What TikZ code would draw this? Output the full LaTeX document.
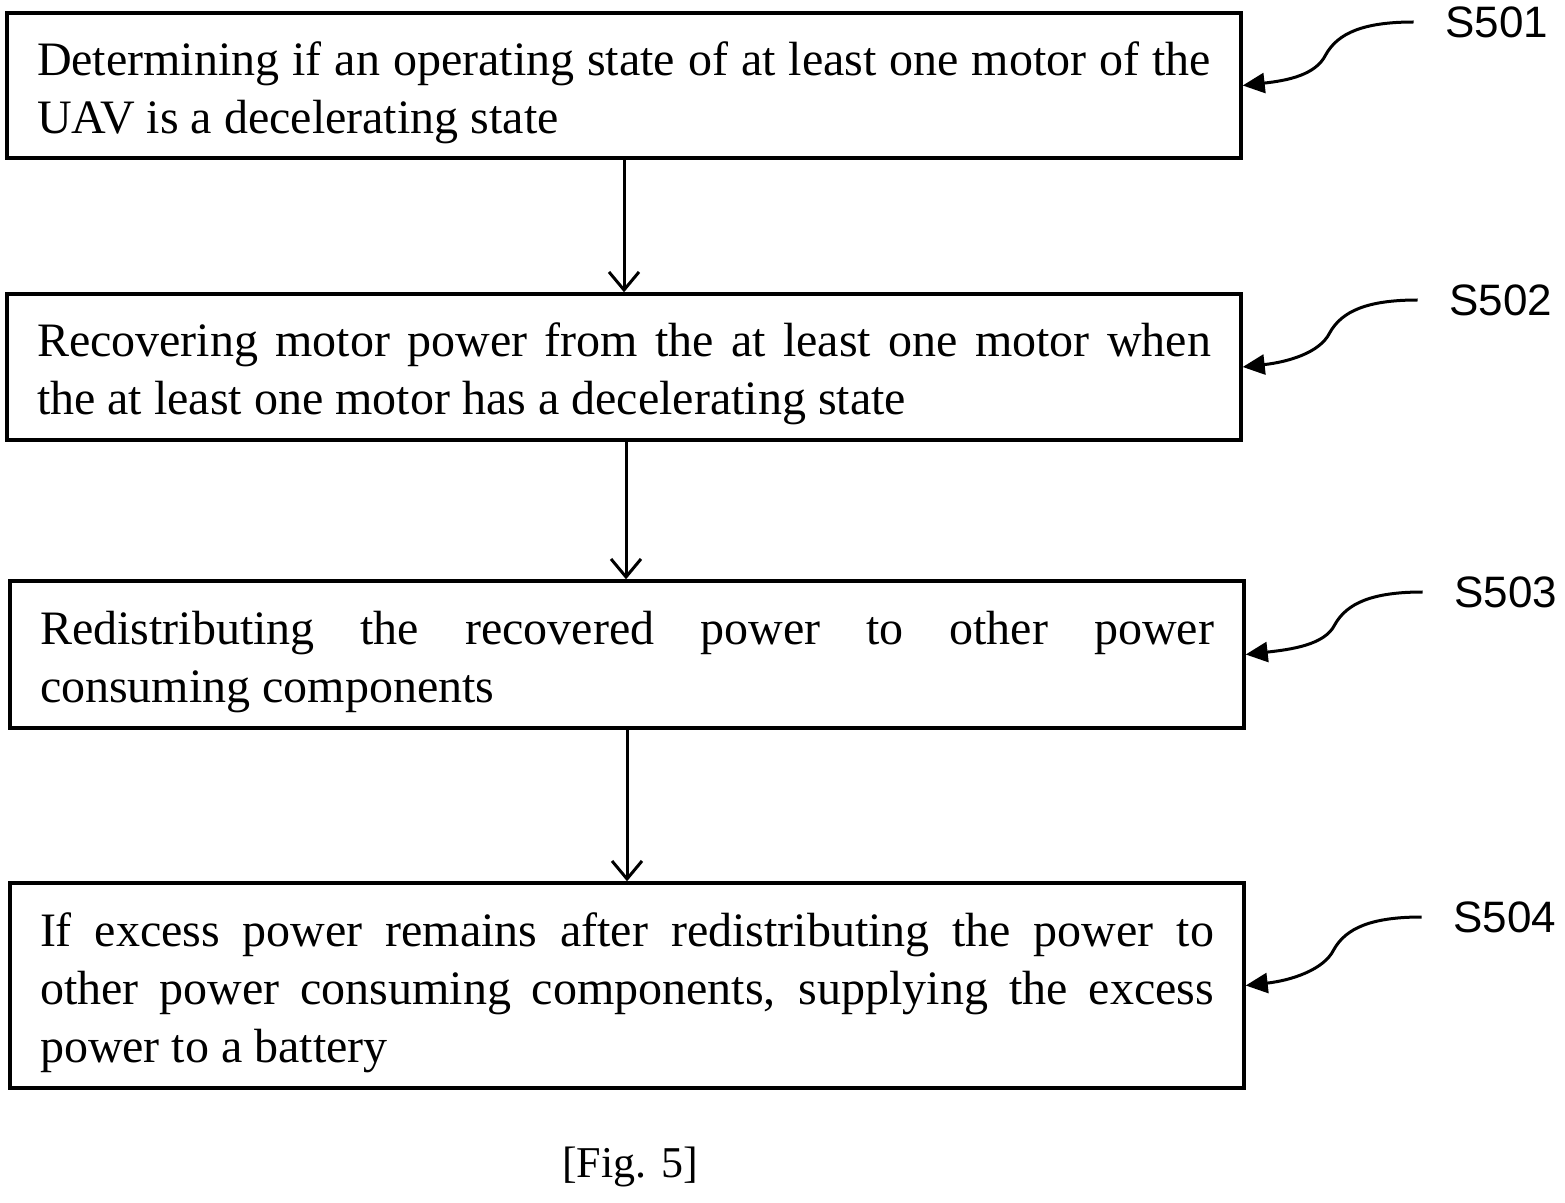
\documentclass[tikz,border=0pt]{standalone}
\usepackage{fontspec}
\setmainfont{Liberation Serif}
\newfontfamily\labfont{Liberation Sans}
\usetikzlibrary{arrows.meta,calc}
\newcommand\boxtopgap{\rule{0pt}{24pt}}
\begin{document}
\begin{tikzpicture}[x=0.5pt,y=-0.5pt,
  stepbox/.style={draw, line width=1.7pt, text width=587pt, align=justify,
    inner xsep=15pt, inner ysep=0pt, font=\fontsize{24}{29}\selectfont},
  flow/.style={line width=1.5pt, -{Straight Barb[length=9pt,width=15pt,line width=1.5pt]}},
  callout/.style={line width=1.5pt, -{Triangle[length=11pt,width=10pt]}},
  steplabel/.style={font=\labfont\fontsize{22}{26}\selectfont, inner sep=0pt, outer xsep=16pt},
  caption/.style={font=\fontsize{22}{26}\selectfont, inner sep=0pt}]
\useasboundingbox (0,0) rectangle (1565,1203);

\node[stepbox, minimum height=72.5pt] (b1) at (624,85.5)
  {\boxtopgap Determining if an operating state of at least one motor of the\linebreak UAV is a decelerating state};
\node[stepbox, minimum height=73pt] (b2) at (624,367)
  {\boxtopgap Recovering motor power from the at least one motor when\linebreak the at least one motor has a decelerating state};
\node[stepbox, minimum height=73.5pt] (b3) at (627,654.5)
  {\boxtopgap Redistributing the recovered power to other power\linebreak consuming components};
\node[stepbox, minimum height=102.5pt] (b4) at (627,985.5)
  {\boxtopgap If excess power remains after redistributing the power to\linebreak other power consuming components, supplying the excess\linebreak power to a battery};

\node[steplabel] (l1) at (1497,22) {S501};
\node[steplabel] (l2) at (1501,300) {S502};
\node[steplabel] (l3) at (1506,592) {S503};
\node[steplabel] (l4) at (1505,917) {S504};

\node[caption] (cap) at (630,1167) {[Fig. 5]};

\draw[flow] (b1.south) -- (b2.north);
\draw[flow] ([xshift=1pt]b2.south) -- ([xshift=1pt]b2.south |- b3.north);
\draw[flow] (b3.south) -- (b4.north);

\draw[callout] (l1.west) .. controls +(-50,0) and +(12,-22) .. ++(-88,33) .. controls +(-10,20) and +(45,-5) .. (b1.east);
\draw[callout] (l2.west) .. controls +(-50,0) and +(12,-22) .. ++(-88,33) .. controls +(-10,20) and +(45,-5) .. (b2.east);
\draw[callout] (l3.west) .. controls +(-50,0) and +(12,-22) .. ++(-88,33) .. controls +(-10,20) and +(45,-5) .. (b3.east);
\draw[callout] (l4.west) .. controls +(-50,0) and +(12,-22) .. ++(-88,33) .. controls +(-10,20) and +(45,-5) .. (b4.east);
\end{tikzpicture}
\end{document}
